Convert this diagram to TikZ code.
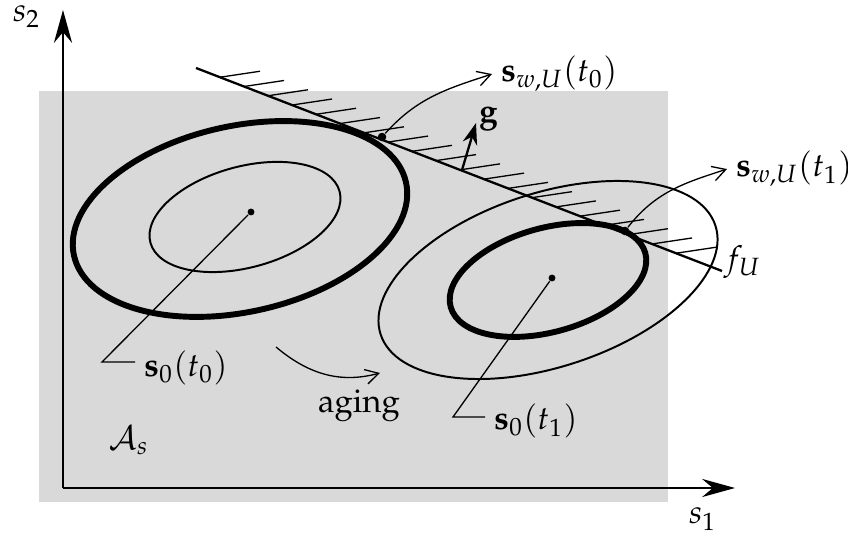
\documentclass[tikz,border=0pt]{standalone}
\usepackage[T1]{fontenc}
\usepackage{amsmath,amssymb}
\usepackage{mathpazo}
\usetikzlibrary{arrows.meta,calc}
\definecolor{region}{HTML}{D9D9D9}
\definecolor{ink}{HTML}{000000}
\tikzset{
  axisarr/.style={draw=ink, line width=0.8pt, -{Stealth[length=10pt,width=5.5pt]}},
  thickell/.style={draw=ink, line width=1.8pt},
  thinell/.style={draw=ink, line width=0.6pt},
  bound/.style={draw=ink, line width=0.7pt},
  hatch/.style={draw=ink, line width=0.4pt},
  leader/.style={draw=ink, line width=0.4pt},
  curvarr/.style={draw=ink, line width=0.4pt, -{Straight Barb[length=4pt,width=4.5pt]}},
  gradarr/.style={draw=ink, line width=0.7pt, -{Stealth[length=6.5pt,width=4.5pt]}},
  tdot/.style={circle, fill=ink, inner sep=0pt, minimum size=2.6pt},
  cdot/.style={circle, fill=ink, inner sep=0pt, minimum size=2.1pt},
  lab/.style={text=ink, inner sep=2.5pt},
}

\begin{document}
\begin{tikzpicture}[x=0.0107cm, y=-0.0107cm, font=\fontsize{10pt}{12pt}\selectfont]
    \useasboundingbox (0,0) rectangle (848,536);
    \fill[region] (39,91) rectangle (668,502);
    % axes
    \coordinate (o) at (63,488);
    \coordinate (s2tip) at (63,10);
    \coordinate (s1tip) at (735,488);
    \draw[axisarr] (o) -- (s2tip);
    \draw[axisarr] (o) -- (s1tip);
    \node[lab, anchor=base west] (s2) at (4,22) {$s_2$};
    \node[lab, anchor=base west] (s1) at (680,524) {$s_1$};
    \node[lab, anchor=base west] (As) at (100,450) {$\mathcal{A}_s$};
    % level sets at t0 and t1
    \coordinate (e0) at (240,219);
    \coordinate (e0i) at (245,217);
    \coordinate (e1) at (548,280);
    \draw[thickell, rotate around={12.4:(e0)}] (e0) ellipse[x radius=170, y radius=93];
    \draw[thinell, rotate around={15.2:(e0i)}] (e0i) ellipse[x radius=98, y radius=50.5];
    \draw[thinell, rotate around={18:(e1)}] (e1) ellipse[x radius=176, y radius=87];
    \draw[thickell, rotate around={15.5:(e1)}] (e1) ellipse[x radius=101, y radius=52];
    % constraint f_U
    \coordinate (fa) at (196,68);
    \coordinate (fb) at (722,271);
    \draw[bound] (fa) -- (fb);
    \foreach \i [evaluate=\i as \f using (24+24*\i)/526] in {0,...,19}
      \draw[hatch] ($(fa)!\f!(fb)$) -- ++(40,-6);
    \node[lab, anchor=base west] (fU) at (715,270) {$f_U$};
    % gradient
    \coordinate (g0) at (462,170);
    \coordinate (g1) at (476,123);
    \draw[gradarr] (g0) -- (g1);
    \node[lab, anchor=base west] (g) at (470,123) {$\mathbf{g}$};
    % points
    \node[tdot] (w0) at (382,137) {};
    \node[tdot] (w1) at (625,231) {};
    \node[cdot] (c0) at (251,212) {};
    \node[cdot] (c1) at (552,278) {};
    \node[lab, anchor=base west] (sw0) at (492,82) {$\mathbf{s}_{w,U}(t_0)$};
    \node[lab, anchor=base west] (sw1) at (727,177) {$\mathbf{s}_{w,U}(t_1)$};
    \draw[curvarr] (w0) to[out=48, in=198] (sw0.west);
    \draw[curvarr] (w1) to[out=52, in=198] (sw1.west);
    \node[lab, anchor=base west] (s0t0) at (135,377) {$\mathbf{s}_0(t_0)$};
    \node[lab, anchor=base west] (s0t1) at (485,430) {$\mathbf{s}_0(t_1)$};
    \coordinate (k0) at (102,362);
    \coordinate (k1) at (453,417);
    \draw[leader] (c0) -- (k0) -- (k0 -| s0t0.west);
    \draw[leader] (c1) -- (k1) -- (k1 -| s0t1.west);
    % aging
    \coordinate (ag0) at (276,347);
    \coordinate (ag1) at (380,373);
    \draw[curvarr] (ag0) to[out=-40, in=195] (ag1);
    \node[lab, anchor=base] (aging) at (359,413) {aging};
\end{tikzpicture}
\end{document}
